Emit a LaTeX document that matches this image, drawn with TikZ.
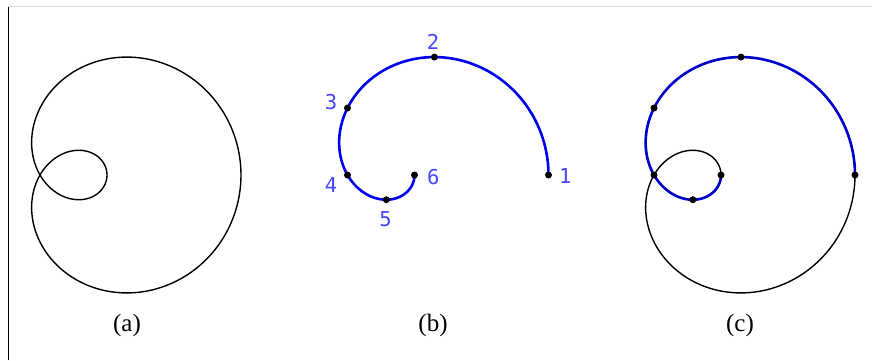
\documentclass[tikz,border=0pt]{standalone}
\usepackage{fontspec}
\setmainfont{Liberation Serif}
\newfontfamily\digfont{DejaVu Sans Mono}
\definecolor{framegray}{RGB}{218,218,218}
\definecolor{curveblue}{RGB}{0,0,240}
\definecolor{curvebluec}{RGB}{0,0,205}
\definecolor{labelblue}{RGB}{70,70,255}
\begin{document}
\begin{tikzpicture}[x=1pt,y=1pt,
  blackcurve/.style={line width=1.4pt,black},
  bluecurve/.style={line width=2.6pt,curveblue},
  bluecurvec/.style={line width=2.6pt,curvebluec},
  dot/.style={circle,fill=black,inner sep=0pt,minimum size=7pt},
  numlab/.style={text=labelblue,font=\digfont\fontsize{20.5}{24}\selectfont,inner sep=0pt},
  caption/.style={font=\fontsize{25}{29}\selectfont,inner sep=0pt}]
\useasboundingbox (0,0) rectangle (872,360);
% frame lines
\draw[framegray,line width=1pt] (8,354) -- (872,354);
\draw[black,line width=1pt] (8,0) -- (8,353.5);
% panel (a)
\begin{scope}[shift={(40,185)}]
  \draw[blackcurve] plot[smooth,domain=0:360,samples=241,variable=\t]
    ({67*(1+2*cos(\t))*cos(\t)},{67*(1+2*cos(\t))*sin(\t)}) -- cycle;
\end{scope}
% panel (b)
\begin{scope}[shift={(347.5,185)}]
  \draw[bluecurve] plot[smooth,domain=0:180,samples=121,variable=\t]
    ({67*(1+2*cos(\t))*cos(\t)},{67*(1+2*cos(\t))*sin(\t)});
  \foreach \t/\n in {0/1,53.6/2,90/3,120/4,147.5/5,180/6}
    \node[dot] (b\n) at ({67*(1+2*cos(\t))*cos(\t)},{67*(1+2*cos(\t))*sin(\t)}) {};
\end{scope}
% panel (c)
\begin{scope}[shift={(654,185)}]
  \draw[blackcurve] plot[smooth,domain=0:360,samples=241,variable=\t]
    ({67*(1+2*cos(\t))*cos(\t)},{67*(1+2*cos(\t))*sin(\t)}) -- cycle;
  \draw[bluecurvec] plot[smooth,domain=0:180,samples=121,variable=\t]
    ({67*(1+2*cos(\t))*cos(\t)},{67*(1+2*cos(\t))*sin(\t)});
  \foreach \t/\n in {0/1,53.6/2,90/3,120/4,147.5/5,180/6}
    \node[dot] (c\n) at ({67*(1+2*cos(\t))*cos(\t)},{67*(1+2*cos(\t))*sin(\t)}) {};
\end{scope}
% number labels
\node[numlab] (l1) at (565.3,184) {1};
\node[numlab] (l2) at (433,318.3) {2};
\node[numlab] (l3) at (331,258.3) {3};
\node[numlab] (l4) at (331,175.3) {4};
\node[numlab] (l5) at (385.5,141.2) {5};
\node[numlab] (l6) at (433.3,183.3) {6};
% captions
\node[caption] (capa) at (127,34.5) {(a)};
\node[caption] (capb) at (433,34.5) {(b)};
\node[caption] (capc) at (740,34.5) {(c)};
\end{tikzpicture}
\end{document}
